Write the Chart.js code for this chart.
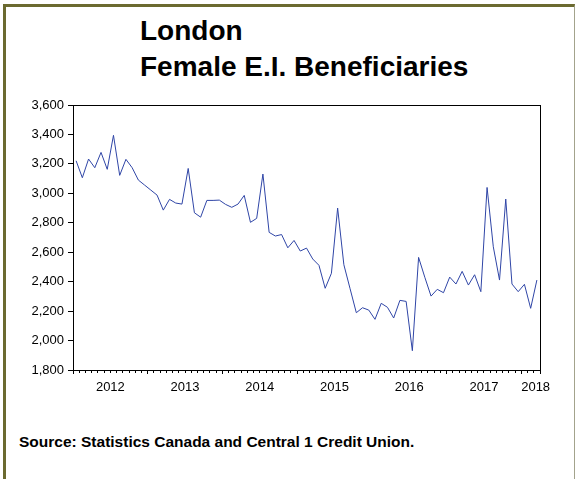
<!DOCTYPE html>
<html>
<head>
<meta charset="utf-8">
<script src="https://cdn.jsdelivr.net/npm/chart.js"></script>
<style>
body { margin: 0; background: #fff; }
#wrap { position: relative; width: 576px; height: 479px; overflow: hidden; font-family: "Liberation Sans", Arial, sans-serif; }
#frame { position: absolute; left: 3px; top: 4px; width: 568px; height: 520px;
  border-top: 3px solid #6b6a30; border-left: 3px solid #6b6a30; border-right: 1px solid #a3a38c; }
.title { position: absolute; left: 140px; font-weight: bold; font-size: 28px; line-height: 28px; color: #000; white-space: nowrap; }
#source { position: absolute; left: 19px; top: 434px; font-weight: bold; font-size: 15.5px; line-height: 15px; color: #000; white-space: nowrap; }
canvas { position: absolute; left: 0; top: 0; }
</style>
</head>
<body>
<div id="wrap">
  <div id="frame"></div>
  <div class="title" style="top:17px">London</div>
  <div class="title" style="top:53px">Female E.I. Beneficiaries</div>
  <div id="source">Source: Statistics Canada and Central 1 Credit Union.</div>
  <canvas id="myChart" width="576" height="479"></canvas>
</div>
<script>
// monthly, Jan 2012 - Mar 2018
const yearLabels = ['2012', '2013', '2014', '2015', '2016', '2017', '2018'];
const beneficiaries = [
  3221, 3106, 3233, 3174, 3278, 3163, 3394, 3122, 3231, 3174, 3090, 3056,
  3022, 2988, 2886, 2959, 2934, 2927, 3169, 2868, 2838, 2952, 2952, 2954,
  2925, 2905, 2927, 2986, 2803, 2830, 3131, 2735, 2710, 2720, 2630, 2680,
  2608, 2628, 2554, 2511, 2355, 2457, 2900, 2515, 2352, 2189, 2223, 2207,
  2144, 2253, 2226, 2153, 2273, 2266, 1931, 2565, 2430, 2302, 2348, 2325,
  2431, 2384, 2470, 2377, 2447, 2332, 3040, 2637, 2411, 2961, 2384, 2332,
  2382, 2219, 2411
];
const yTicks = [1800, 2000, 2200, 2400, 2600, 2800, 3000, 3200, 3400, 3600];

const nMonths = beneficiaries.length;
const points = beneficiaries.map((v, i) => ({ x: i + 0.5, y: v }));

// tick marks at every month boundary, year labels centred in each year
const labelAt = {};
yearLabels.forEach((yr, k) => {
  const start = k * 12;
  const end = Math.min(start + 12, nMonths);
  const pos = (end - start === 12) ? start + 6 : nMonths - 0.7;
  labelAt[pos] = yr;
});
const tickVals = [];
for (let m = 0; m <= nMonths; m++) tickVals.push(m);
Object.keys(labelAt).forEach(p => { if (!tickVals.includes(+p)) tickVals.push(+p); });
tickVals.sort((a, b) => a - b);

const isMonth = v => Number.isInteger(v);
const isYear = v => isMonth(v) && (v % 12 === 0 || v === nMonths);

const ctx = document.getElementById('myChart').getContext('2d');
const chart = new Chart(ctx, {
  type: 'line',
  data: {
    datasets: [{
      label: 'Female E.I. Beneficiaries',
      data: points,
      borderColor: '#2f45a6',
      borderWidth: 1,
      pointRadius: 0,
      tension: 0,
      fill: false
    }]
  },
  options: {
    responsive: false,
    animation: false,
    devicePixelRatio: 1,
    layout: { padding: 0 },
    plugins: { legend: { display: false }, tooltip: { enabled: false } },
    scales: {
      x: {
        type: 'linear',
        position: 'bottom',
        min: 0,
        max: nMonths,
        afterBuildTicks: s => { s.ticks = tickVals.map(v => ({ value: v })); },
        afterFit: s => { s.height = 109; },
        ticks: {
          autoSkip: false, maxRotation: 0, minRotation: 0, padding: 6,
          color: '#000', font: { family: '"Liberation Sans", Arial', size: 13 },
          callback: v => labelAt[v] || ''
        },
        grid: {
          drawOnChartArea: false,
          tickLength: 4,
          tickColor: c => isMonth(c.tick.value) ? '#000' : 'rgba(0,0,0,0)',
          tickBorderDash: c => isYear(c.tick.value) ? [] : [2, 100]
        },
        border: { color: '#000', width: 1 }
      },
      xTop: {
        type: 'linear', position: 'top', axis: 'x', min: 0, max: nMonths,
        afterFit: s => { s.height = 105; },
        ticks: { display: false },
        grid: { drawOnChartArea: false, drawTicks: false },
        border: { color: '#000', width: 1 }
      },
      y: {
        type: 'linear',
        position: 'left',
        min: 1800,
        max: 3600,
        afterBuildTicks: s => { s.ticks = yTicks.map(v => ({ value: v })); },
        afterFit: s => { s.width = 73; },
        ticks: {
          padding: 4, color: '#000', font: { family: '"Liberation Sans", Arial', size: 13 },
          callback: v => v.toLocaleString('en-US')
        },
        grid: { drawOnChartArea: false, tickLength: 5, tickColor: '#000' },
        border: { color: '#000', width: 1 }
      },
      yRight: {
        type: 'linear', position: 'right', axis: 'y', min: 1800, max: 3600,
        afterFit: s => { s.width = 36; },
        ticks: { display: false },
        grid: { drawOnChartArea: false, drawTicks: false },
        border: { color: '#000', width: 1 }
      }
    }
  }
});
</script>
</body>
</html>
